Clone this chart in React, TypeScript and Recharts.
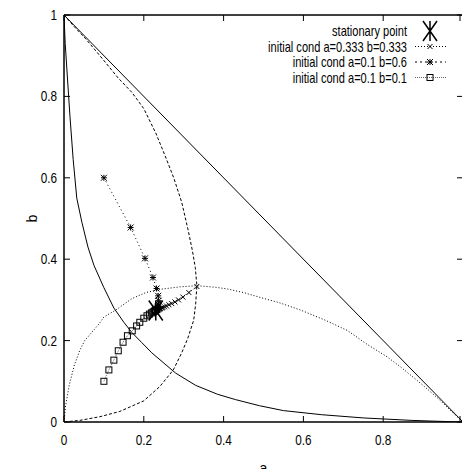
import { ComposedChart, Line, Scatter, XAxis, YAxis, ReferenceLine } from "recharts";

// --- data ---
const TICKS = [0, 0.2, 0.4, 0.6, 0.8, 1];

const diagonal = [
  { a: 0, b: 1 },
  { a: 1, b: 0 },
];

const solidCurveA = [0, 0.003, 0.007, 0.015, 0.023, 0.032, 0.045, 0.06, 0.075, 0.1, 0.125, 0.15, 0.17, 0.195, 0.22, 0.25, 0.28, 0.33, 0.385, 0.43, 0.49, 0.55, 0.645, 0.75, 0.87, 0.93, 1];
const solidCurveB = [1, 0.93, 0.87, 0.75, 0.645, 0.55, 0.49, 0.43, 0.385, 0.33, 0.28, 0.245, 0.22, 0.195, 0.17, 0.145, 0.12, 0.09, 0.068, 0.055, 0.04, 0.028, 0.018, 0.01, 0.004, 0.002, 0];

const dashedA = [0, 0.025, 0.053, 0.09, 0.136, 0.17, 0.2, 0.23, 0.253, 0.275, 0.295, 0.311, 0.322, 0.329, 0.333, 0.33, 0.325, 0.31, 0.295, 0.274, 0.24, 0.2, 0.14, 0.09, 0.04, 0];
const dashedB = [1, 0.972, 0.943, 0.9, 0.845, 0.81, 0.77, 0.71, 0.655, 0.6, 0.54, 0.472, 0.42, 0.38, 0.335, 0.29, 0.25, 0.205, 0.17, 0.128, 0.087, 0.052, 0.026, 0.013, 0.004, 0];

const dottedA = [0, 0.004, 0.013, 0.026, 0.04, 0.052, 0.087, 0.1, 0.128, 0.17, 0.205, 0.241, 0.29, 0.333, 0.38, 0.409, 0.45, 0.492, 0.54, 0.593, 0.655, 0.71, 0.761, 0.81, 0.844, 0.9, 0.943, 0.972, 1];
const dottedB = [0, 0.04, 0.09, 0.14, 0.177, 0.2, 0.24, 0.258, 0.274, 0.303, 0.318, 0.326, 0.332, 0.335, 0.331, 0.327, 0.318, 0.306, 0.293, 0.275, 0.25, 0.225, 0.19, 0.16, 0.135, 0.09, 0.053, 0.025, 0];

// initial cond a=0.333 b=0.333
const traj1A = [0.333, 0.313, 0.298, 0.287, 0.278, 0.27, 0.263, 0.257, 0.252, 0.248, 0.245, 0.242, 0.24, 0.238, 0.236, 0.235, 0.234, 0.233, 0.232];
const traj1B = [0.333, 0.318, 0.307, 0.3, 0.295, 0.291, 0.288, 0.285, 0.283, 0.281, 0.28, 0.279, 0.278, 0.277, 0.276, 0.276, 0.275, 0.275, 0.275];

// initial cond a=0.1 b=0.6
const traj2A = [0.1, 0.167, 0.203, 0.223, 0.232, 0.236, 0.237, 0.236, 0.235, 0.234, 0.233, 0.233, 0.232, 0.232];
const traj2B = [0.6, 0.478, 0.402, 0.355, 0.328, 0.31, 0.298, 0.29, 0.285, 0.281, 0.279, 0.277, 0.276, 0.275];

// initial cond a=0.1 b=0.1
const traj3A = [0.1, 0.1125, 0.125, 0.136, 0.148, 0.159, 0.171, 0.182, 0.19, 0.2, 0.208, 0.214, 0.219, 0.223, 0.226, 0.228, 0.229, 0.23];
const traj3B = [0.1, 0.128, 0.152, 0.175, 0.196, 0.212, 0.224, 0.236, 0.245, 0.255, 0.261, 0.265, 0.268, 0.27, 0.272, 0.273, 0.274, 0.275];

const stationary = [{ a: 0.23, b: 0.274 }];

const toPoints = (as: number[], bs: number[]) => as.map((a, i) => ({ a, b: bs[i] }));

// --- layout ---
const FONT = '"Liberation Sans", Arial, sans-serif';
const PLOT_TOP = 15;
const PLOT_RIGHT = 463;
const TICK_LEN = 6;

// gnuplot's helvetica looks condensed, so squeeze the text a bit
const NText = ({ x, y, anchor, squeeze = 0.84, children }: any) => (
  <text transform={`translate(${x},${y}) scale(${squeeze},1)`} textAnchor={anchor} fontSize={14} fontFamily={FONT} fill="#000">
    {children}
  </text>
);

function XTick({ x, y, payload }: any) {
  return (
    <g>
      <line x1={x} y1={y} x2={x} y2={y - TICK_LEN} stroke="#000" />
      <line x1={x} y1={PLOT_TOP} x2={x} y2={PLOT_TOP + TICK_LEN} stroke="#000" />
      {/* the label of 1 falls off the right edge in the original */}
      {payload.value < 1 && (
        <NText x={x} y={y + 23} anchor="middle">
          {String(payload.value)}
        </NText>
      )}
    </g>
  );
}

function YTick({ x, y, payload }: any) {
  return (
    <g>
      <line x1={x} y1={y} x2={x + TICK_LEN} y2={y} stroke="#000" />
      <line x1={PLOT_RIGHT} y1={y} x2={PLOT_RIGHT - TICK_LEN} y2={y} stroke="#000" />
      <NText x={x - 7} y={y + 5} anchor="end">
        {String(payload.value)}
      </NText>
    </g>
  );
}

// markers
const XMark = ({ cx, cy }: { cx: number; cy: number }) => (
  <path d={`M${cx - 2.5},${cy - 2.5}L${cx + 2.5},${cy + 2.5}M${cx - 2.5},${cy + 2.5}L${cx + 2.5},${cy - 2.5}`} stroke="#000" strokeWidth={1} fill="none" />
);
const StarMark = ({ cx, cy }: { cx: number; cy: number }) => (
  <path
    d={`M${cx - 3},${cy - 3}L${cx + 3},${cy + 3}M${cx - 3},${cy + 3}L${cx + 3},${cy - 3}M${cx - 3},${cy}L${cx + 3},${cy}M${cx},${cy - 3}L${cx},${cy + 3}`}
    stroke="#000"
    strokeWidth={1}
    fill="none"
  />
);
const SquareMark = ({ cx, cy }: { cx: number; cy: number }) => (
  <rect x={cx - 3} y={cy - 3} width={6} height={6} stroke="#000" strokeWidth={1} fill="none" />
);
const BigStar = ({ cx, cy }: { cx: number; cy: number }) => (
  <path
    d={`M${cx - 7},${cy - 10}L${cx + 7},${cy + 10}M${cx - 7},${cy + 10}L${cx + 7},${cy - 10}M${cx},${cy - 10}L${cx},${cy + 10}`}
    stroke="#000"
    strokeWidth={1.5}
    fill="none"
  />
);

const dotRenderer = (Mark: any) => (p: any) => <Mark key={p.index} cx={p.cx} cy={p.cy} />;

const legendRows = [
  { label: "stationary point", mark: BigStar, dash: null as string | null },
  { label: "initial cond a=0.333 b=0.333", mark: XMark, dash: "1 2" },
  { label: "initial cond a=0.1 b=0.6", mark: StarMark, dash: "2 3" },
  { label: "initial cond a=0.1 b=0.1", mark: SquareMark, dash: "1 1" },
];

function LegendBox() {
  return (
    <svg width={462} height={90} style={{ position: "absolute", left: 0, top: 0, pointerEvents: "none" }}>
      {legendRows.map((r, i) => {
        const y = 31 + i * 15.5;
        const M = r.mark;
        return (
          <g key={i}>
            <NText x={407} y={y + 5} anchor="end" squeeze={0.79}>
              {r.label}
            </NText>
            {r.dash && <line x1={415} y1={y} x2={446} y2={y} stroke={i === 3 ? "#666" : "#000"} strokeDasharray={r.dash} />}
            <M cx={430} cy={y} />
          </g>
        );
      })}
    </svg>
  );
}

export default function App() {
  return (
    <div style={{ position: "absolute", left: 0, top: 0, width: 462, height: 469, overflow: "hidden", background: "#fff" }}>
      <ComposedChart width={464} height={469} margin={{ top: PLOT_TOP, right: 1, bottom: 0, left: 0 }}>
        <XAxis
          type="number"
          dataKey="a"
          domain={[0, 1]}
          ticks={TICKS}
          height={47}
          tickSize={0}
          tickMargin={0}
          tickLine={false}
          tick={<XTick />}
          axisLine={{ stroke: "#000", strokeWidth: 1.5 }}
          allowDataOverflow
          label={{ value: "a", position: "insideBottom", offset: -4, fontSize: 14, fontFamily: FONT, fill: "#000" }}
        />
        <YAxis
          type="number"
          dataKey="b"
          domain={[0, 1]}
          ticks={TICKS}
          width={64}
          tickSize={0}
          tickMargin={0}
          tickLine={false}
          tick={<YTick />}
          axisLine={{ stroke: "#000", strokeWidth: 1.5 }}
          allowDataOverflow
          label={{ value: "b", angle: -90, position: "center", fontSize: 14, fontFamily: FONT, fill: "#000" }}
        />
        <ReferenceLine y={1} stroke="#000" strokeWidth={1.5} />
        <ReferenceLine x={1} stroke="#000" strokeWidth={1.5} />

        <Line data={diagonal} dataKey="b" stroke="#000" strokeWidth={1} dot={false} isAnimationActive={false} />
        <Line data={toPoints(solidCurveA, solidCurveB)} dataKey="b" type="linear" stroke="#000" strokeWidth={1} dot={false} isAnimationActive={false} />
        <Line data={toPoints(dashedA, dashedB)} dataKey="b" stroke="#000" strokeWidth={1} strokeDasharray="3 2" dot={false} isAnimationActive={false} />
        <Line data={toPoints(dottedA, dottedB)} dataKey="b" stroke="#000" strokeWidth={1} strokeDasharray="1 2" dot={false} isAnimationActive={false} />

        <Line data={toPoints(traj1A, traj1B)} dataKey="b" stroke="#000" strokeWidth={1} strokeDasharray="1 2" dot={dotRenderer(XMark)} isAnimationActive={false} />
        <Line data={toPoints(traj2A, traj2B)} dataKey="b" stroke="#000" strokeWidth={1} strokeDasharray="1 3" dot={dotRenderer(StarMark)} isAnimationActive={false} />
        <Line data={toPoints(traj3A, traj3B)} dataKey="b" stroke="#666" strokeWidth={1} strokeDasharray="1 1" dot={dotRenderer(SquareMark)} isAnimationActive={false} />

        <Scatter data={stationary} dataKey="b" shape={(p: any) => <BigStar cx={p.cx} cy={p.cy} />} isAnimationActive={false} />
      </ComposedChart>
      <LegendBox />
    </div>
  );
}
